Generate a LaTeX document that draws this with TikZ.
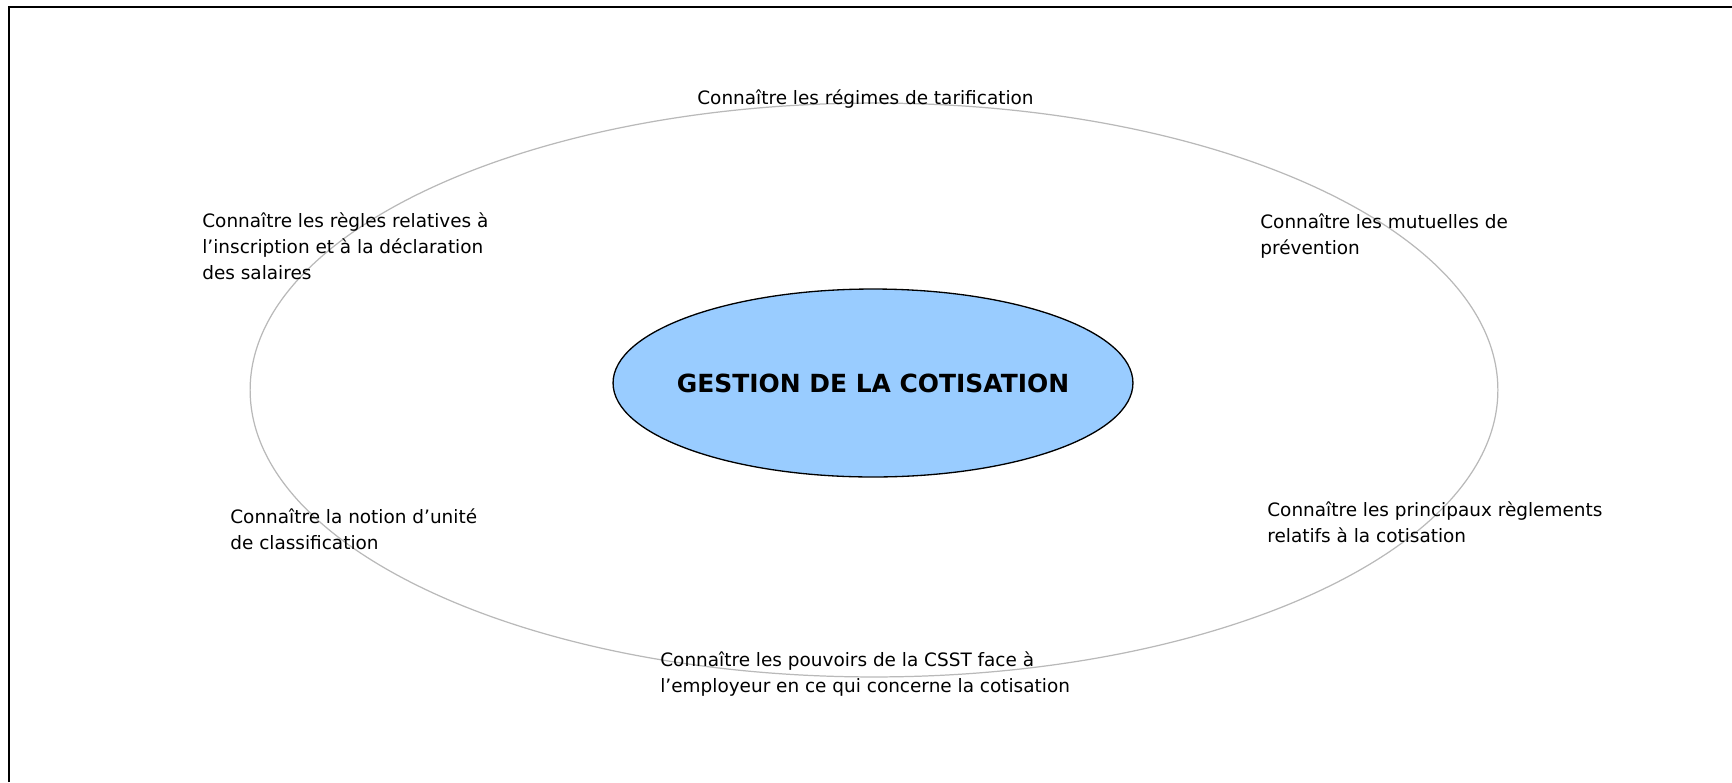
\documentclass[tikz,border=0pt]{standalone}
\usepackage{fontspec}
\setmainfont{DejaVu Sans}
\usetikzlibrary{shapes.geometric, positioning}
\definecolor{paleblue}{RGB}{153,204,255}
\definecolor{ringgray}{RGB}{185,185,185}

\begin{document}
\begin{tikzpicture}[
            x=0.02cm, y=-0.02cm,
            ring/.style={ellipse, draw=ringgray, line width=0.7pt, minimum width=24.96cm, minimum height=11.48cm},
            core/.style={ellipse, draw=black, fill=paleblue, line width=0.75pt, minimum width=10.4cm, minimum height=3.76cm},
            title/.style={inner sep=0pt, font=\fontsize{14.2}{16}\selectfont\bfseries},
            goal/.style={anchor=west, align=left, inner sep=0pt, font=\fontsize{10.5}{14.8}\selectfont}
        ]
            \useasboundingbox (0,0) rectangle (1732,782);
            \draw[line width=0.9pt] (9,782) -- (9,7) -- (1732,7);

            \node[ring] (ring) at (874,390) {};
            \node[core] (gestion) at (873,383) {};
            \node[title] (titre) at (gestion.center) {GESTION DE LA COTISATION};

            % Objectifs
            \node[goal] (regimes) at (697,99) {Connaître les régimes de tarification};
            \node[goal] (regles) at (202,246) {Connaître les règles relatives à\\l’inscription et à la déclaration\\des salaires};
            \node[goal] (mutuelles) at (1260,236) {Connaître les mutuelles de\\prévention};
            \node[goal] (unite) at (230,529) {Connaître la notion d’unité\\de classification};
            \node[goal] (reglements) at (1267,522) {Connaître les principaux règlements\\relatifs à la cotisation};
            \node[goal] (pouvoirs) at (660,674) {Connaître les pouvoirs de la CSST face à\\l’employeur en ce qui concerne la cotisation};
        \end{tikzpicture}
\end{document}
